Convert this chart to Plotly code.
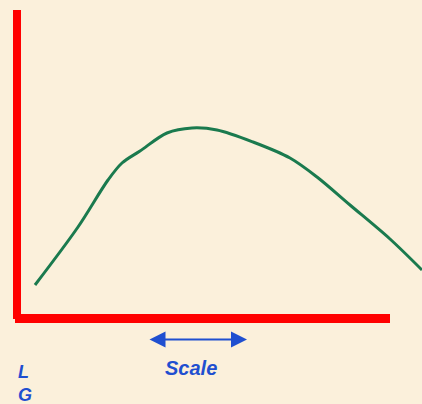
import plotly.graph_objects as go

# Curve data (arbitrary units; origin at the red axes corner)
curve_x = [18, 61, 91, 105, 123, 150, 175, 200, 236, 273, 300, 333, 373, 405]
curve_y = [33, 91, 138, 155, 167, 185, 190, 188, 176, 160, 141, 113, 79, 48]

label_scale = "Scale"
label_side = ["L", "G"]

BG = "#FBF0DB"
RED = "#FF0000"
GREEN = "#1A7A4E"
BLUE = "#1F4FD0"

fig = go.Figure()
fig.add_trace(go.Scatter(
    x=curve_x, y=curve_y, mode="lines",
    line=dict(color=GREEN, width=3, shape="spline", smoothing=0.9),
    hoverinfo="skip", showlegend=False,
))

# Red axes
fig.add_shape(type="line", x0=0, x1=0, y0=-1, y1=308,
              line=dict(color=RED, width=8), layer="above")
fig.add_shape(type="line", x0=-2, x1=373, y0=-0.5, y1=-0.5,
              line=dict(color=RED, width=9), layer="above")

# Double arrow for scale
fig.add_annotation(x=230, y=-21.5, ax=131, ay=-21.5, xref="x", yref="y",
                   axref="x", ayref="y", text="", showarrow=True,
                   arrowhead=2, startarrowhead=2, arrowside="end+start",
                   arrowsize=1.6, startarrowsize=1.6, arrowwidth=2, arrowcolor=BLUE)

fig.add_annotation(x=174, y=-50, xref="x", yref="y",
                   text="<b><i>" + label_scale + "</i></b>",
                   showarrow=False,
                   font=dict(family="Liberation Sans, Arial", size=20, color=BLUE),
                   xanchor="center", yanchor="middle")
fig.add_annotation(x=-1, y=-42, xref="x", yref="y",
                   text="<br>".join("<b><i>" + s + "</i></b>" for s in label_side),
                   showarrow=False, align="left",
                   font=dict(family="Liberation Sans, Arial", size=18, color=BLUE),
                   xanchor="left", yanchor="top")

fig.update_layout(
    width=422, height=404,
    margin=dict(l=0, r=0, t=0, b=0),
    paper_bgcolor=BG, plot_bgcolor=BG,
    xaxis=dict(range=[-17, 405], visible=False, fixedrange=True),
    yaxis=dict(range=[-86, 318], visible=False, fixedrange=True),
)

fig.write_html(
    "out.html",
    config={"displayModeBar": False},
    post_script="document.body.style.margin='0';document.body.style.overflow='hidden';"
                "document.body.style.background='" + BG + "';",
)
